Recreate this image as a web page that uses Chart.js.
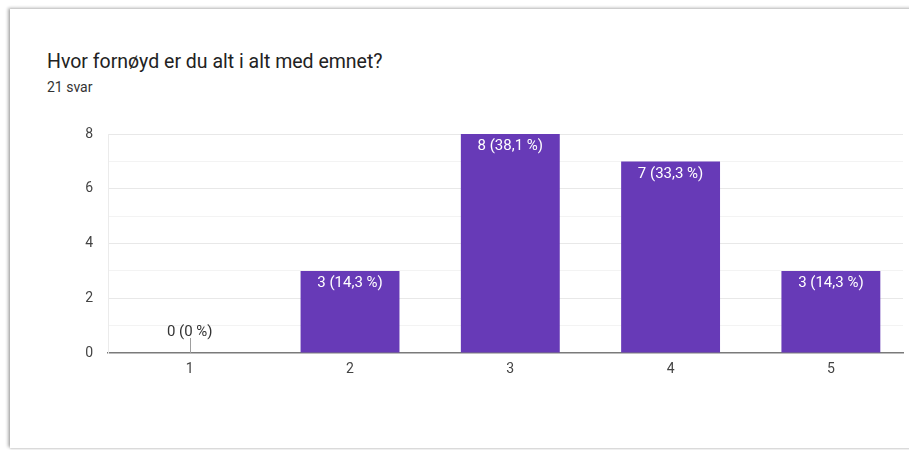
<!DOCTYPE html>
<html>
<head>
<meta charset="utf-8">
<script src="https://cdn.jsdelivr.net/npm/chart.js@4/dist/chart.umd.min.js"></script>
<style>
  html, body { margin: 0; padding: 0; background: #fff; overflow: hidden; }
  body { width: 909px; height: 450px; position: relative; font-family: Roboto, Arial, sans-serif; }
  .card {
    position: absolute; left: 10px; top: 9px; width: 940px; height: 439px;
    background: #fff; box-shadow: -2px -1px 3px rgba(0,0,0,0.3), 0 1px 2px rgba(0,0,0,0.15);
  }
  .title { position: absolute; left: 47px; top: 50px; font-size: 19.5px; color: #222; line-height: 24px; }
  .sub { position: absolute; left: 47px; top: 79px; font-size: 14px; color: #333; line-height: 16px; }
  #chart { position: absolute; left: 0; top: 0; }
</style>
</head>
<body>
<div class="card"></div>
<div class="title">Hvor fornøyd er du alt i alt med emnet?</div>
<div class="sub">21 svar</div>
<canvas id="chart" width="909" height="450"></canvas>
<script>
// Svaralternativer og antall svar
var categories = [1, 2, 3, 4, 5];
var counts = [0, 3, 8, 7, 3];
var yTicks = [0, 2, 4, 6, 8];

var total = counts.reduce(function (a, b) { return a + b; }, 0);

function pctText(v) {
    var p = Math.round(v / total * 1000) / 10;
    var s = (p % 1 === 0) ? String(p) : p.toFixed(1).replace('.', ',');
    return v + ' (' + s + ' %)';
}

// Etiketter på søylene
var barLabels = {
    id: 'barLabels',
    afterDatasetsDraw: function (chart) {
        var ctx = chart.ctx;
        var meta = chart.getDatasetMeta(0);
        ctx.save();
        ctx.font = '15px Roboto, Arial, sans-serif';
        ctx.textAlign = 'center';
        ctx.textBaseline = 'middle';
        meta.data.forEach(function (bar, i) {
            var v = counts[i];
            if (v === 0) {
                ctx.strokeStyle = '#9e9e9e';
                ctx.lineWidth = 1;
                ctx.beginPath();
                ctx.moveTo(Math.round(bar.x) + 0.5, bar.base - 15);
                ctx.lineTo(Math.round(bar.x) + 0.5, bar.base);
                ctx.stroke();
                ctx.fillStyle = '#333';
                ctx.fillText(pctText(v), bar.x, bar.base - 21);
            } else {
                ctx.fillStyle = '#fff';
                ctx.fillText(pctText(v), bar.x, bar.y + 12.5);
            }
        });
        ctx.restore();
    }
};

var ctx = document.getElementById('chart').getContext('2d');
new Chart(ctx, {
    type: 'bar',
    data: {
        datasets: [{
            data: categories.map(function (c, i) { return { x: c, y: counts[i] }; }),
            backgroundColor: '#673ab7',
            borderWidth: 0,
            categoryPercentage: 1,
            barPercentage: 0.617
        }]
    },
    options: {
        responsive: false,
        animation: false,
        layout: { padding: { left: 0, top: 134, right: 6, bottom: 0 } },
        plugins: { legend: { display: false }, tooltip: { enabled: false } },
        scales: {
            x: {
                type: 'linear',
                min: 0.49,
                max: 5.45,
                offset: false,
                afterBuildTicks: function (axis) {
                    axis.ticks = categories.map(function (c) { return { value: c }; });
                },
                afterFit: function (axis) { axis.height = 97; },
                grid: { display: false },
                border: { display: true, color: '#7a7a7a', width: 1.5 },
                ticks: {
                    color: '#444',
                    font: { family: 'Roboto', size: 14 },
                    padding: 0,
                    callback: function (v) { return String(v); }
                }
            },
            y: {
                min: 0,
                max: 8,
                afterBuildTicks: function (axis) {
                    var t = [];
                    for (var v = 0; v <= 8; v++) t.push({ value: v });
                    axis.ticks = t;
                },
                afterFit: function (axis) { axis.width = 108; },
                grid: {
                    drawTicks: false,
                    color: function (c) {
                        if (c.tick.value === 0) return 'rgba(0,0,0,0)';
                        return c.tick.value % 2 === 0 ? '#e8e8e8' : '#f3f3f3';
                    }
                },
                border: { display: true, color: '#ebebeb' },
                ticks: {
                    color: '#444',
                    font: { family: 'Roboto', size: 14 },
                    padding: 15,
                    callback: function (v) { return yTicks.indexOf(v) >= 0 ? String(v) : ''; }
                }
            }
        }
    },
    plugins: [barLabels]
});
</script>
</body>
</html>
